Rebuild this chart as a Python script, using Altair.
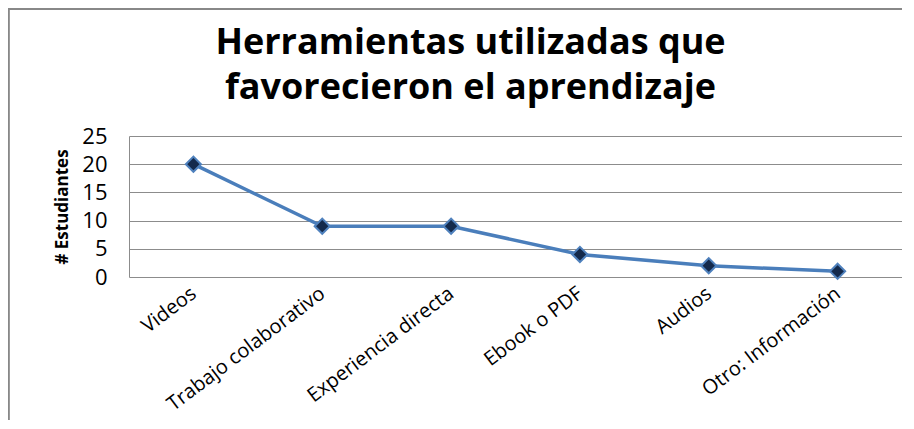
import altair as alt
import pandas as pd

categories = ["Videos", "Trabajo colaborativo", "Experiencia directa", "Ebook o PDF", "Audios", "Otro: Información"]
values = [20, 9, 9, 4, 2, 1]
y_ticks = [0, 5, 10, 15, 20, 25]

df = pd.DataFrame({"cat": categories, "val": values})

x_enc = alt.X("cat:N", sort=categories, title=None,
              scale=alt.Scale(paddingInner=0, paddingOuter=0.5),
              axis=alt.Axis(labelAngle=-37, labelFontSize=20, labelFont="Open Sans",
                            labelColor="#000000", ticks=False, domain=False, labelLimit=400,
                            labelPadding=14, grid=False, labelAlign="right", labelBaseline="middle"))
y_enc = alt.Y("val:Q", title="# Estudiantes",
              scale=alt.Scale(domain=[0, 25], nice=False),
              axis=alt.Axis(values=y_ticks, labelFontSize=22, labelFont="Open Sans",
                            labelColor="#000000", ticks=False, domain=True, domainColor="#8c8c8c",
                            gridColor="#8c8c8c", gridWidth=1, labelPadding=22,
                            titleFont="Open Sans", titleFontSize=17, titleFontWeight="bold",
                            titleColor="#000000", titlePadding=10))

line = alt.Chart(df).mark_line(color="#4a7ebb", strokeWidth=3.5).encode(x=x_enc, y=y_enc)
pts = alt.Chart(df).mark_point(shape="diamond", filled=True, size=230, fill="#142a4c",
                               stroke="#4f81bd", strokeWidth=2, opacity=1).encode(x=x_enc, y=y_enc)

frame_top = alt.Chart(df).mark_rule(color="#888888", strokeWidth=1.5).encode(
    x=alt.value(-121), x2=alt.value(800), y=alt.value(-127))
frame_left = alt.Chart(df).mark_rule(color="#888888", strokeWidth=1.5).encode(
    x=alt.value(-120.5), y=alt.value(-127), y2=alt.value(300))

chart = alt.layer(frame_top, frame_left, line, pts).properties(
    width=773, height=141,
    title=alt.TitleParams(["Herramientas utilizadas que", "favorecieron el aprendizaje"],
                          font="Open Sans", fontSize=36, fontWeight="bold", color="#000000",
                          anchor="middle", dx=-45, offset=-99, lineHeight=45),
    padding={"left": 121, "top": 128, "right": 0, "bottom": 143},
    autosize=alt.AutoSizeParams(type="none"),
).configure_view(stroke=None).configure_axisX(grid=False)

chart.save("out.html", embed_options={"renderer": "svg", "actions": False})
